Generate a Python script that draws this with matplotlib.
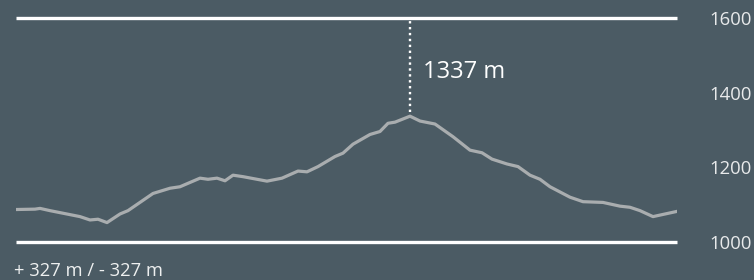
import matplotlib
matplotlib.use("Agg")
import matplotlib.pyplot as plt
import numpy as np

# distance along the route (km) and elevation (m)
dist_km = [0.0, 0.38, 0.48, 0.68, 1.28, 1.48, 1.64, 1.82, 2.08, 2.24, 2.74, 3.08,
           3.28, 3.68, 3.84, 4.02, 4.18, 4.34, 4.54, 5.02, 5.32, 5.64, 5.82, 6.04,
           6.38, 6.54, 6.74, 7.08, 7.28, 7.44, 7.58, 7.88, 8.08, 8.38, 8.74, 9.08,
           9.32, 9.52, 9.82, 10.04, 10.28, 10.48, 10.68, 11.08, 11.34, 11.74, 12.08,
           12.28, 12.48, 12.74, 13.22]
elev_m = [1087, 1088, 1090, 1084, 1068, 1059, 1061, 1052, 1075, 1084, 1130, 1144,
          1148, 1171, 1168, 1171, 1164, 1179, 1175, 1163, 1171, 1190, 1188, 1202,
          1229, 1238, 1262, 1288, 1296, 1318, 1321, 1337, 1324, 1316, 1282, 1246,
          1239, 1222, 1209, 1202, 1179, 1168, 1148, 1120, 1108, 1106, 1096, 1093,
          1084, 1068, 1082]
y_ticks = [1000, 1200, 1400, 1600]
gain_text = "+ 327 m / - 327 m"

bg = "#4b5b64"
plt.rcParams['font.family'] = ['Open Sans', 'DejaVu Sans']

fig = plt.figure(figsize=(7.54, 2.8), dpi=100, facecolor=bg)
ax = fig.add_axes([16/754, 38/280, 661/754, 224/280])
ax.set_facecolor(bg)

ax.set_xlim(dist_km[0], dist_km[-1])
ax.set_ylim(y_ticks[0], y_ticks[-1])

# top / bottom bounds
for yv in (y_ticks[0], y_ticks[-1]):
    ax.axhline(yv, color="white", lw=2.4, clip_on=False, solid_capstyle="butt")

ax.plot(dist_km, elev_m, color="#a9adaf", lw=2.3, solid_joinstyle="round")

# peak marker
i_max = int(np.argmax(elev_m))
ax.plot([dist_km[i_max]] * 2, [elev_m[i_max] + 12, y_ticks[-1] - 8], color="white",
        lw=1.7, linestyle=(0, (1, 1.5)), dash_capstyle="butt")
ax.text(dist_km[i_max] + 0.26, 1456, f"{elev_m[i_max]} m", color="white",
        fontsize=17, va="center", ha="left")

ax.set_xticks([])
ax.set_yticks(y_ticks)
ax.yaxis.tick_right()
ax.tick_params(axis="y", length=0, pad=54, labelsize=13.3, labelcolor="#e8eaeb")
for lab in ax.get_yticklabels():
    lab.set_horizontalalignment("right")
for s in ax.spines.values():
    s.set_visible(False)

fig.text(14/754, 1 - 271/280, gain_text, color="#eef0f0", fontsize=13.2,
         va="center", ha="left")

fig.savefig("out.png", dpi=100, facecolor=bg)
